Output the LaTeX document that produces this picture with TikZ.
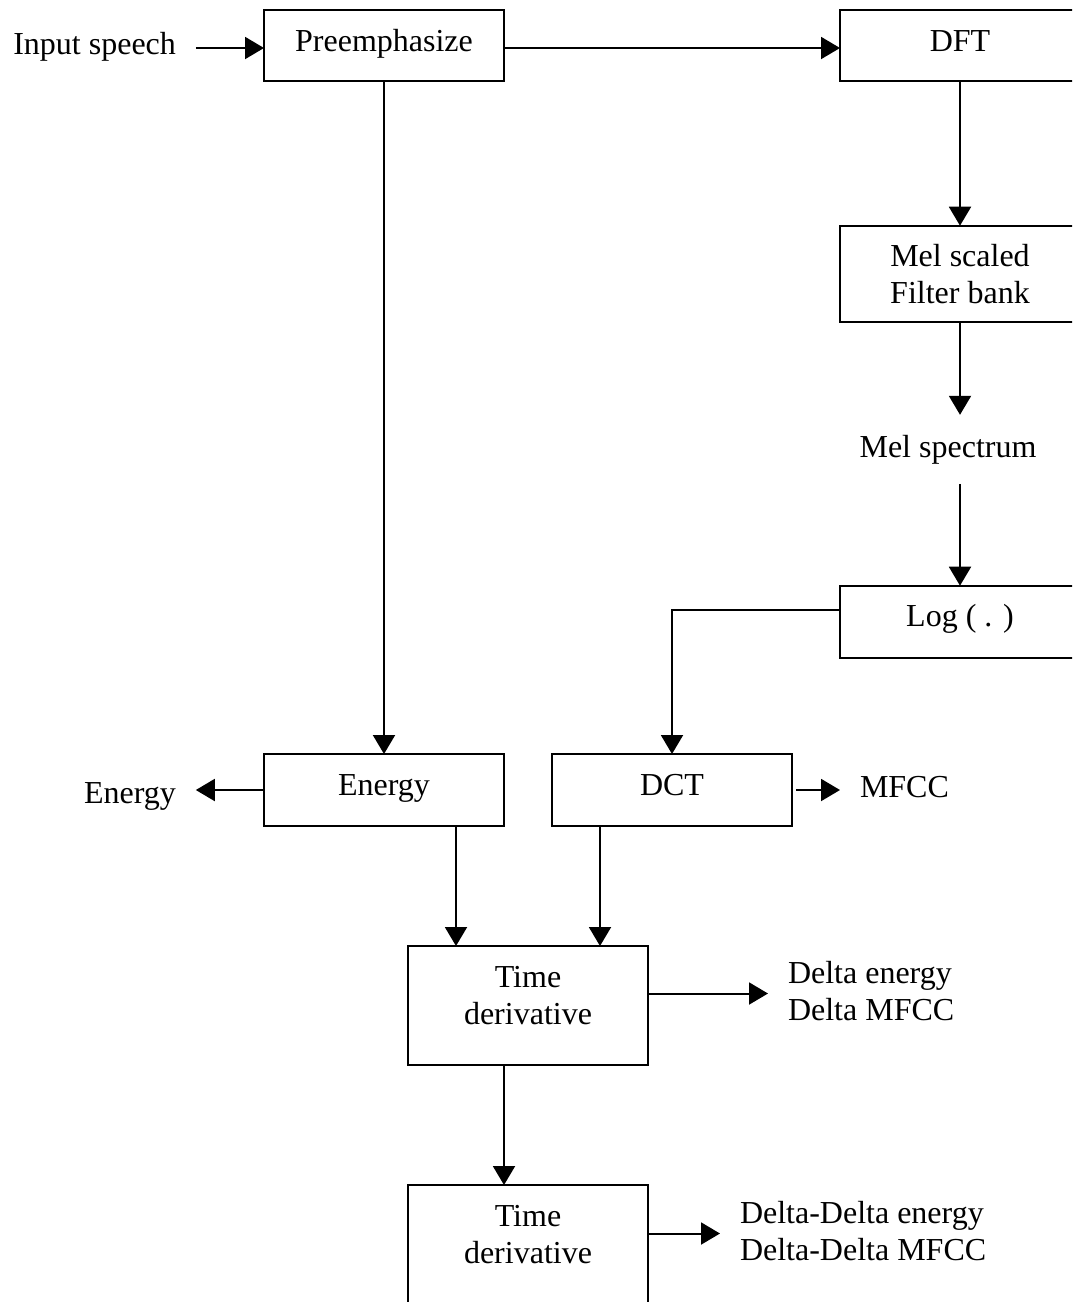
\documentclass[tikz,border=0pt]{standalone}
\usepackage{fontspec}
\setmainfont{Liberation Serif}
\usetikzlibrary{arrows.meta}

\tikzset{
    txt/.style={font=\fontsize{32}{37}\selectfont},
    blk/.style={txt, draw, line width=2pt, anchor=north west, align=center,
        minimum width=240pt, inner xsep=0pt, inner ysep=10pt, outer sep=0pt, text height=31pt},
    blk2/.style={blk, text height=68pt},
    lbl/.style={txt, inner sep=20pt, outer sep=0pt},
    arr/.style={line width=2pt, -{Triangle[length=19pt,width=22pt]}}
}

\begin{document}
\begin{tikzpicture}[x=1pt,y=-1pt]
    \useasboundingbox (0,0) rectangle (1072,1302);
    \clip (0,0) rectangle (1072,1302);

    \node[blk, text depth=20pt] (pre) at (264,10) {Preemphasize};
    \node[blk, text depth=20pt] (dft) at (840,10) {DFT};
    \node[blk2, text depth=8pt] (mel) at (840,225.7) {Mel scaled\\Filter bank};
    \node[blk, text depth=21pt] (log) at (840,585.7) {Log ( . )};
    \node[blk, text depth=21pt] (energy) at (264,754) {Energy};
    \node[blk, text depth=21pt] (dct) at (552,754) {DCT};
    \node[blk2, text depth=31pt] (td1) at (408,946) {Time\\derivative};
    \node[blk2, text depth=31pt] (td2) at (408,1185) {Time\\derivative};

    \node[lbl, anchor=base west] (inp) at (-6.7,54) {Input speech};
    \node[lbl, anchor=base] (melsp) at (948,457) {Mel spectrum};
    \node[lbl, anchor=base west] (eout) at (64,803) {Energy};
    \node[lbl, anchor=base west] (mfcc) at (840,797) {MFCC};
    \node[lbl, anchor=base west, align=left] (dlt) at (768,1020) {Delta energy\\Delta MFCC};
    \node[lbl, anchor=base west, align=left] (ddlt) at (720,1260) {Delta-Delta energy\\Delta-Delta MFCC};

    \coordinate (prein) at ([yshift=-2.5pt]pre.west);
    \coordinate (preout) at ([yshift=-2.5pt]pre.east);
    \coordinate (logout) at ([yshift=12pt]log.west);
    \coordinate (td1a) at ([xshift=48pt]td1.north west);
    \coordinate (td1b) at ([xshift=-48pt]td1.north east);
    \coordinate (td1out) at ([yshift=12pt]td1.east);
    \coordinate (td2in) at ([xshift=96pt]td2.north west);
    \coordinate (td2out) at ([yshift=11pt]td2.east);

    \draw[arr] (inp.east |- prein) -- (prein);
    \draw[arr] (preout) -- (preout -| dft.west);
    \draw[arr] (pre.south) -- (energy.north);
    \draw[arr] (dft.south) -- (mel.north);
    \draw[arr] (mel.south) -- (mel.south |- melsp.north);
    \draw[arr] (melsp.south -| log.north) -- (log.north);
    \draw[arr] (logout) -- (logout -| dct.north) -- (dct.north);
    \draw[arr] (energy.west) -- (energy.west -| eout.east);
    \draw[arr, shorten <=4pt] (dct.east) -- (dct.east -| mfcc.west);
    \draw[arr] (energy.south -| td1a) -- (td1a);
    \draw[arr] (dct.south -| td1b) -- (td1b);
    \draw[arr] (td1out) -- (td1out -| dlt.west);
    \draw[arr] (td2in |- td1.south) -- (td2in);
    \draw[arr] (td2out) -- (td2out -| ddlt.west);
\end{tikzpicture}
\end{document}
